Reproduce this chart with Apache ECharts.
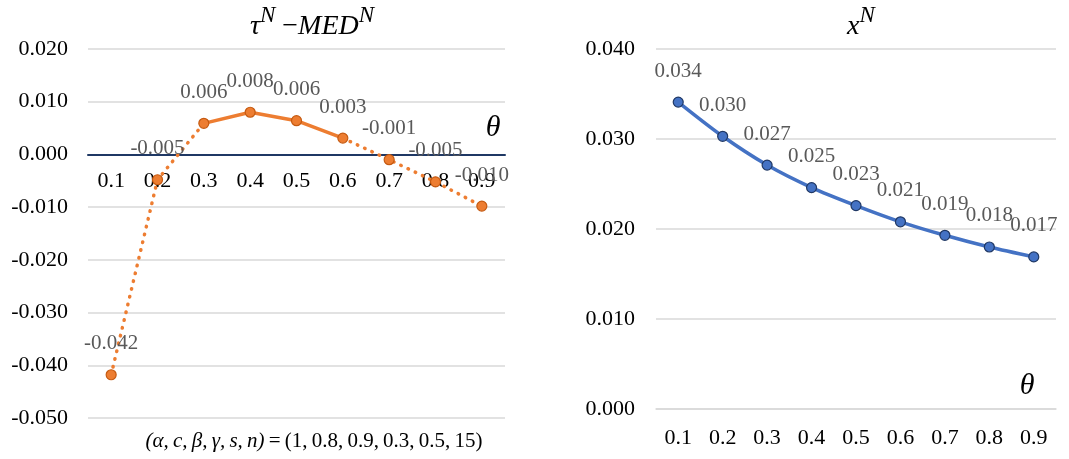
<!DOCTYPE html>
<html>
<head>
<meta charset="utf-8">
<script src="https://cdn.jsdelivr.net/npm/echarts@6/dist/echarts.min.js"></script>
<style>
html, body { margin: 0; padding: 0; background: #fff; }
#main { width: 1069px; height: 459px; }
</style>
</head>
<body>
<div id="main"></div>
<script>
// theta values on the x axis
var thetas = ['0.1', '0.2', '0.3', '0.4', '0.5', '0.6', '0.7', '0.8', '0.9'];
// tau^N - MED^N
var diffValues = [-0.0418, -0.0048, 0.0059, 0.0080, 0.0064, 0.0031, -0.0010, -0.0052, -0.0098];
// x^N
var xnValues = [0.0341, 0.0303, 0.0271, 0.0246, 0.0226, 0.0208, 0.0193, 0.0180, 0.0169];
// part of the left curve drawn solid (index range), the rest is dotted
var solidRange = [2, 5];
var leftTicks = [-0.05, 0.02, 0.01];
var rightTicks = [0, 0.04, 0.01];

var serif = '"Liberation Serif", "DejaVu Serif", serif';
var orange = '#ED7D31', blue = '#4472C4';

var chart = echarts.init(document.getElementById('main'), null, { renderer: 'canvas' });

var solidData = diffValues.map(function (v, i) {
  return (i >= solidRange[0] && i <= solidRange[1]) ? v : '-';
});
var dottedData = diffValues.map(function (v, i) {
  return (i <= solidRange[0] || i >= solidRange[1]) ? v : '-';
});

function fmt3(v) { return Number(v).toFixed(3); }

var titleRich = {
  i: { fontFamily: serif, fontStyle: 'italic', fontWeight: 'normal', fontSize: 28, color: '#000', lineHeight: 32, verticalAlign: 'bottom' },
  m: { fontFamily: serif, fontWeight: 'normal', fontSize: 28, color: '#000', lineHeight: 32, verticalAlign: 'bottom' },
  sup: { fontFamily: serif, fontStyle: 'italic', fontWeight: 'normal', fontSize: 23, color: '#000', lineHeight: 24, padding: [0, 0, 14, 0], verticalAlign: 'bottom' }
};

var axisLabel = { fontFamily: serif, fontSize: 22, color: '#000' };
var dataLabel = {
  show: true, position: 'top', distance: 15,
  fontFamily: serif, fontSize: 21, color: '#595959',
  formatter: function (p) { return fmt3(p.value); }
};

// the left category axis sits on the zero line of its value axis
var zeroOffset = -369 * (0 - leftTicks[0]) / (leftTicks[1] - leftTicks[0]);

var option = {
  backgroundColor: '#fff',
  animation: false,
  title: [{
    text: '{i|τ}{sup|N}{m| −}{i|MED}{sup|N}',
    left: 312, top: 9, textAlign: 'center', padding: 0,
    textStyle: { fontWeight: 'normal', rich: titleRich }
  }, {
    text: '{i|x}{sup|N}',
    left: 861, top: 9, textAlign: 'center', padding: 0,
    textStyle: { fontWeight: 'normal', rich: titleRich }
  }],
  grid: [
    { left: 88, top: 49, width: 417, height: 369 },
    { left: 656, top: 49, width: 400, height: 360 }
  ],
  xAxis: [{
    gridIndex: 0, type: 'category', data: thetas, boundaryGap: true,
    position: 'bottom', offset: zeroOffset,
    axisLine: { onZero: false, lineStyle: { color: '#1F3864', width: 2 } },
    axisTick: { show: false },
    axisLabel: Object.assign({ margin: 16 }, axisLabel)
  }, {
    gridIndex: 1, type: 'category', data: thetas, boundaryGap: true,
    axisLine: { lineStyle: { color: '#D9D9D9', width: 1.5 } },
    axisTick: { show: false },
    axisLabel: Object.assign({ margin: 18 }, axisLabel)
  }],
  yAxis: [{
    gridIndex: 0, type: 'value', min: leftTicks[0], max: leftTicks[1], interval: leftTicks[2],
    axisLine: { show: false }, axisTick: { show: false },
    splitLine: { lineStyle: { color: '#D9D9D9', width: 1.5 } },
    axisLabel: Object.assign({ margin: 20, formatter: fmt3 }, axisLabel)
  }, {
    gridIndex: 1, type: 'value', min: rightTicks[0], max: rightTicks[1], interval: rightTicks[2],
    axisLine: { show: false }, axisTick: { show: false },
    splitLine: { lineStyle: { color: '#D9D9D9', width: 1.5 } },
    axisLabel: Object.assign({ margin: 21, formatter: fmt3 }, axisLabel)
  }],
  series: [{
    type: 'line', xAxisIndex: 0, yAxisIndex: 0, data: dottedData,
    showSymbol: false, connectNulls: false, z: 2,
    lineStyle: { color: orange, width: 3.5, type: [0.5, 7.5], cap: 'round' }
  }, {
    type: 'line', xAxisIndex: 0, yAxisIndex: 0, data: solidData,
    showSymbol: false, z: 3,
    lineStyle: { color: orange, width: 3.5 }
  }, {
    type: 'scatter', xAxisIndex: 0, yAxisIndex: 0, data: diffValues,
    symbolSize: 10, z: 4,
    itemStyle: { color: orange, borderColor: '#C55A11', borderWidth: 1.2, opacity: 1 },
    label: dataLabel
  }, {
    type: 'line', xAxisIndex: 1, yAxisIndex: 1, data: xnValues,
    smooth: 0.3, symbol: 'circle', symbolSize: 10, z: 3,
    lineStyle: { color: blue, width: 3.5 },
    itemStyle: { color: blue, borderColor: '#203864', borderWidth: 1.2 },
    label: dataLabel
  }],
  graphic: [{
    type: 'text', x: 493, y: 128,
    style: { text: 'θ', font: 'italic 30px ' + serif, fill: '#000', align: 'center', verticalAlign: 'middle' }
  }, {
    type: 'text', x: 1027, y: 386,
    style: { text: 'θ', font: 'italic 30px ' + serif, fill: '#000', align: 'center', verticalAlign: 'middle' }
  }, {
    type: 'text', x: 314, y: 441,
    style: {
      text: '{i|(α,\u2009c,\u2009β,\u2009γ,\u2009s,\u2009n)}{m|\u2009=\u2009(1,\u20090.8,\u20090.9,\u20090.3,\u20090.5,\u200915)}',
      align: 'center', verticalAlign: 'middle',
      rich: {
        i: { fontFamily: serif, fontStyle: 'italic', fontSize: 21, fill: '#000' },
        m: { fontFamily: serif, fontSize: 21, fill: '#000' }
      }
    }
  }]
};

chart.setOption(option);
</script>
</body>
</html>
